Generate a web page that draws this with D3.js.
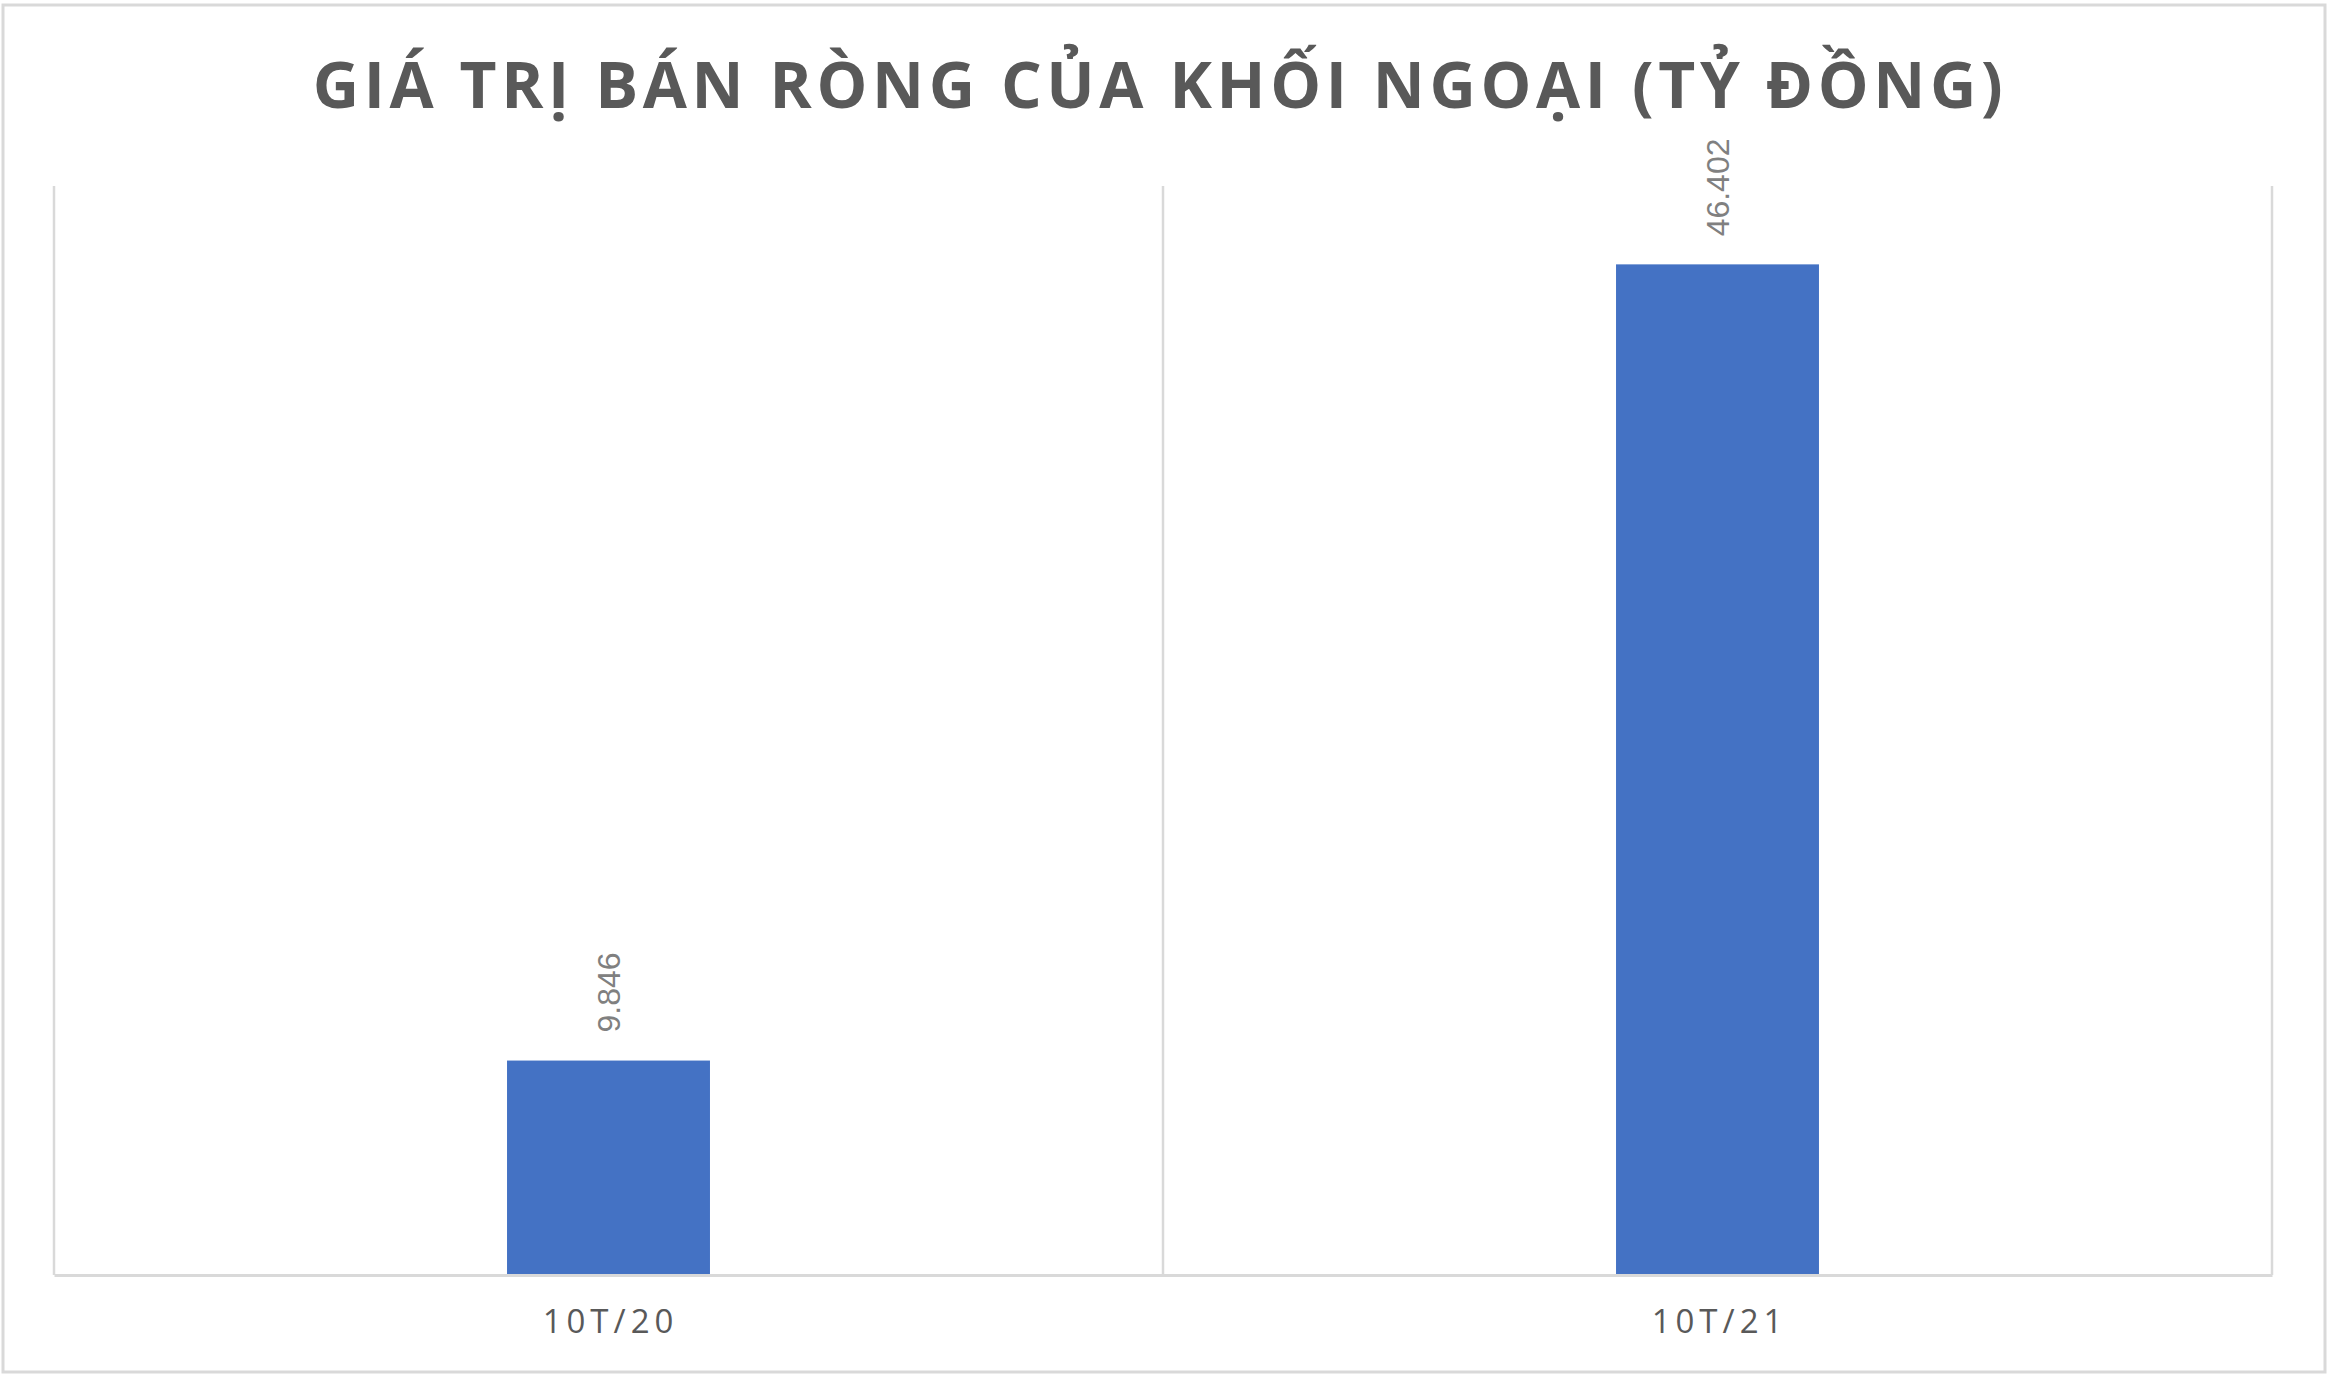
<!DOCTYPE html>
<html>
<head>
<meta charset="utf-8">
<script src="https://cdn.jsdelivr.net/npm/d3@7"></script>
<style>
  body { margin: 0; background: #fff; }
</style>
</head>
<body>
<div class="chart"></div>
<script>
const title = 'GIÁ TRỊ BÁN RÒNG CỦA KHỐI NGOẠI (TỶ ĐỒNG)';
const categories = ['10T/20', '10T/21'];
const values = [9846, 46402];
const yDomain = [0, 50000];

const W = 2328, H = 1375;
const margin = { top: 186, left: 54, bottom: 100, right: 56 };

// vietnamese style numbers: 9.846
const vn = d3.formatLocale({ decimal: ',', thousands: '.', grouping: [3], currency: ['', ''] });
const fmt = vn.format(',d');

const svg = d3.select('.chart')
    .append('svg')
    .attr('width', W)
    .attr('height', H);

// outer frame
svg.append('rect')
    .attr('x', 3).attr('y', 5)
    .attr('width', W - 6).attr('height', H - 8)
    .attr('fill', '#fff')
    .attr('stroke', '#d9d9d9')
    .attr('stroke-width', 3);

// scales
const xScale = d3.scaleBand()
    .domain(categories)
    .range([margin.left, W - margin.right])
    .padding(0);

const yScale = d3.scaleLinear()
    .domain(yDomain)
    .range([H - margin.bottom, margin.top]);

const barW = xScale.bandwidth() * 0.183;

// vertical gridlines between categories
const gridX = categories.map(c => xScale(c)).concat([xScale.range()[1]]);
svg.append('g')
    .selectAll('line')
    .data(gridX)
    .enter()
    .append('line')
    .attr('x1', d => d).attr('x2', d => d)
    .attr('y1', yScale(yDomain[1]))
    .attr('y2', yScale(0))
    .attr('stroke', '#d9d9d9')
    .attr('stroke-width', 2.5);

// bars
const data = categories.map((c, i) => ({ cat: c, value: values[i] }));

svg.append('g')
    .selectAll('rect')
    .data(data)
    .enter()
    .append('rect')
    .attr('x', d => xScale(d.cat) + xScale.bandwidth() / 2 - barW / 2)
    .attr('y', d => yScale(d.value))
    .attr('width', barW)
    .attr('height', d => yScale(0) - yScale(d.value))
    .attr('fill', '#4472c4');

// x axis
const xAxis = d3.axisBottom(xScale).tickSize(0).tickPadding(0);
const xAxisDraw = svg.append('g')
    .attr('class', 'x-axis')
    .attr('transform', `translate(0, ${yScale(0)})`)
    .call(xAxis);

xAxisDraw.select('.domain')
    .attr('stroke', '#d9d9d9')
    .attr('stroke-width', 3);

xAxisDraw.selectAll('text')
    .attr('dy', null)
    .attr('y', 58)
    .attr('dx', '2px')
    .style('font-family', '"Open Sans", sans-serif')
    .style('font-size', '33px')
    .style('letter-spacing', '5px')
    .style('fill', '#595959');

// data labels
svg.append('g')
    .selectAll('text')
    .data(data)
    .enter()
    .append('text')
    .attr('transform', d => `translate(${xScale(d.cat) + xScale.bandwidth() / 2}, ${yScale(d.value) - 28}) rotate(-90)`)
    .attr('dy', '0.35em')
    .attr('text-anchor', 'start')
    .style('font-family', '"Liberation Sans", Arial, sans-serif')
    .style('font-size', '32px')
    .style('fill', '#808080')
    .text(d => fmt(d.value));

// title, spaced out to its width in the picture
const titleText = svg.append('text')
    .attr('x', W / 2)
    .attr('y', 108)
    .attr('text-anchor', 'middle')
    .style('font-family', '"Open Sans", sans-serif')
    .style('font-weight', 700)
    .style('font-size', '64px')
    .style('fill', '#595959')
    .text(title);

const targetW = 1690;
const natural = titleText.node().getComputedTextLength();
const spacing = (targetW - natural) / (title.length - 1);
titleText.style('letter-spacing', `${spacing}px`)
    .attr('x', W / 2 - 4);
</script>
</body>
</html>
